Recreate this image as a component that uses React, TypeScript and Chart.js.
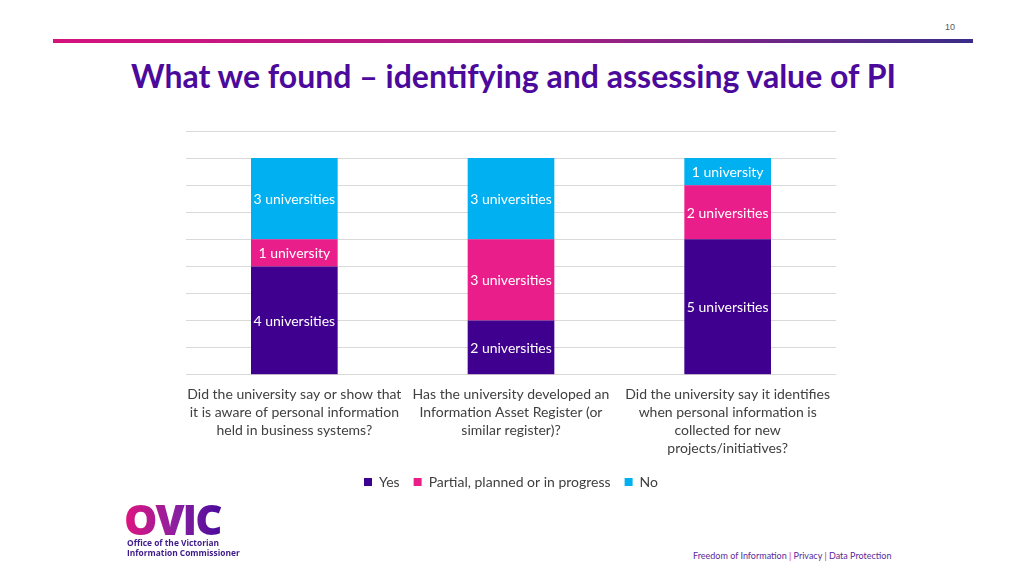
import React, { useEffect, useRef } from "react";
import { Chart, registerables } from "chart.js";

Chart.register(...registerables);

const categories: string[][] = [
  ["Did the university say or show that", "it is aware of personal information", "held in business systems?"],
  ["Has the university developed an", "Information Asset Register (or", "similar register)?"],
  ["Did the university say it identifies", "when personal information is", "collected for new", "projects/initiatives?"],
];
const yesValues = [4, 2, 5];
const partialValues = [1, 3, 2];
const noValues = [3, 3, 1];
const seriesNames = ["Yes", "Partial, planned or in progress", "No"];
const seriesColors = ["#40008F", "#EA1E8A", "#00B0F0"];
const yMax = 9;

const FONT = "Lato, 'Open Sans', sans-serif";

const segmentLabels = {
  id: "segmentLabels",
  afterDatasetsDraw(chart: any) {
    const ctx = chart.ctx;
    ctx.save();
    ctx.fillStyle = "#FFFFFF";
    ctx.font = `14px ${FONT}`;
    ctx.textAlign = "center";
    ctx.textBaseline = "middle";
    chart.data.datasets.forEach((ds: any, di: number) => {
      const meta = chart.getDatasetMeta(di);
      meta.data.forEach((el: any, i: number) => {
        const v = ds.data[i];
        if (!v) return;
        const text = `${v} ${v === 1 ? "university" : "universities"}`;
        ctx.fillText(text, el.x, (el.y + el.base) / 2 + 1);
      });
    });
    ctx.restore();
  },
};

function BarChart() {
  const ref = useRef<HTMLCanvasElement | null>(null);
  useEffect(() => {
    if (!ref.current) return;
    const chart = new Chart(ref.current, {
      type: "bar",
      data: {
        labels: categories,
        datasets: [
          { label: seriesNames[0], data: yesValues, backgroundColor: seriesColors[0] },
          { label: seriesNames[1], data: partialValues, backgroundColor: seriesColors[1] },
          { label: seriesNames[2], data: noValues, backgroundColor: seriesColors[2] },
        ],
      },
      options: {
        animation: false,
        responsive: true,
        maintainAspectRatio: false,
        datasets: { bar: { barPercentage: 0.4, categoryPercentage: 1 } },
        layout: { padding: { left: 10, right: 10, top: 11, bottom: 0 } },
        plugins: {
          legend: {
            position: "bottom",
            labels: {
              boxWidth: 8,
              boxHeight: 8,
              color: "#404040",
              font: { family: FONT, size: 14 },
              padding: 14,
            },
          },
          tooltip: { enabled: false },
        },
        scales: {
          x: {
            stacked: true,
            grid: { display: false },
            border: { display: false },
            ticks: {
              color: "#404040",
              font: { family: FONT, size: 14, lineHeight: 1.29 },
              maxRotation: 0,
              autoSkip: false,
              padding: 3,
            },
          },
          y: {
            stacked: true,
            min: 0,
            max: yMax,
            border: { display: false },
            grid: { color: "#D9D9D9", drawTicks: false },
            ticks: { display: false, stepSize: 1 },
          },
        },
      },
      plugins: [segmentLabels],
    });
    return () => chart.destroy();
  }, []);
  return <canvas ref={ref} />;
}

export default function App() {
  return (
    <div style={{ position: "relative", width: 1024, height: 576, margin: -8, background: "#fff", overflow: "hidden", fontFamily: FONT }}>
      <div style={{ position: "absolute", left: 945, top: 22, fontSize: 9, color: "#595959", fontFamily: "'Liberation Sans Narrow', 'Liberation Sans', sans-serif" }}>10</div>
      <div style={{ position: "absolute", left: 53, top: 39, width: 920, height: 4, background: "linear-gradient(90deg, #D4127E 0%, #B01E82 50%, #3A2C8A 100%)" }} />
      <div style={{ position: "absolute", left: 131, top: 56, fontSize: 32, fontWeight: 700, color: "#4B0A9C", whiteSpace: "nowrap" }}>
        What we found – identifying and assessing value of PI
      </div>
      <div style={{ position: "absolute", left: 176, top: 120, width: 670, height: 379 }}>
        <BarChart />
      </div>
      <div style={{ position: "absolute", left: 124, top: 497, fontSize: 42, fontWeight: 900, lineHeight: "44px", letterSpacing: -2, background: "linear-gradient(90deg, #E0137F 0%, #8A1FA0 55%, #4A0A9C 100%)", WebkitBackgroundClip: "text", backgroundClip: "text", color: "transparent", fontFamily: "'Open Sans', Lato, sans-serif" }}>
        OVIC
      </div>
      <div style={{ position: "absolute", left: 127, top: 538, fontSize: 8.4, fontWeight: 700, lineHeight: "10px", color: "#3E1A8A", fontFamily: "'Open Sans', sans-serif" }}>
        Office of the Victorian<br />Information Commissioner
      </div>
      <div style={{ position: "absolute", left: 693, top: 550, fontSize: 9, color: "#5A2A9A", whiteSpace: "nowrap" }}>
        Freedom of Information <span style={{ color: "#D4127E" }}>|</span> Privacy <span style={{ color: "#D4127E" }}>|</span> Data Protection
      </div>
    </div>
  );
}
